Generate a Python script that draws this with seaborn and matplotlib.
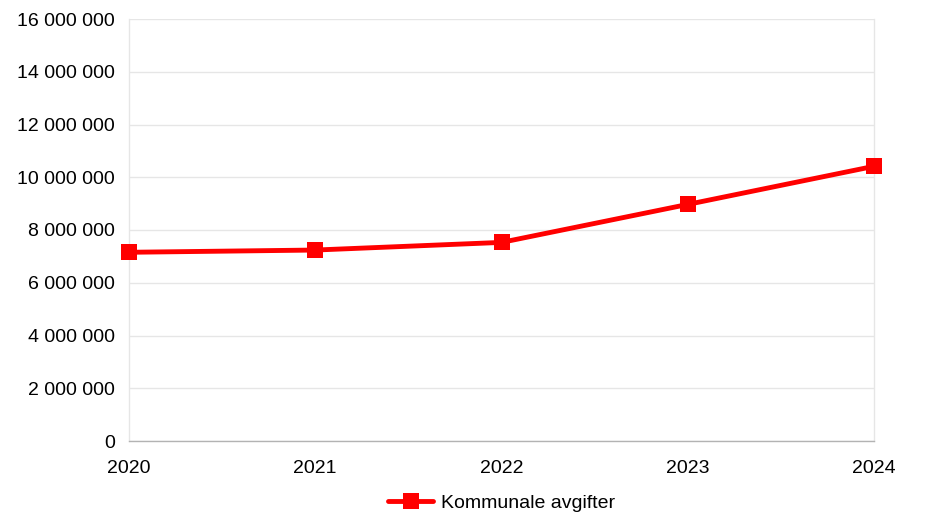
import pandas as pd
import matplotlib
matplotlib.use("Agg")
import matplotlib.pyplot as plt
import matplotlib.ticker as mticker
import seaborn as sns

years = [2020, 2021, 2022, 2023, 2024]
kommunale_avgifter = [7155000, 7240000, 7530000, 8970000, 10415000]
series_name = "Kommunale avgifter"

df = pd.DataFrame({"År": years, "Beløp": kommunale_avgifter, "Serie": series_name})

sns.set_theme(style="white")
plt.rcParams['font.family'] = ['Liberation Sans', 'DejaVu Sans']
plt.rcParams['text.color'] = 'black'

fig = plt.figure(figsize=(9.35, 5.28), dpi=100)
ax = fig.add_axes([129 / 935, 87 / 528, 745 / 935, 422 / 528])

sns.lineplot(data=df, x="År", y="Beløp", hue="Serie", palette=["#ff0000"],
             marker="s", markersize=11, markeredgewidth=0, linewidth=3.5,
             ax=ax, legend=True, clip_on=False, zorder=5)

ax.set_xlim(2020, 2024)
ax.set_ylim(0, 16000000)
ax.set_xticks(years)
ax.set_xticklabels([str(y) for y in years])
ax.yaxis.set_major_locator(mticker.MultipleLocator(2000000))
ax.yaxis.set_major_formatter(mticker.FuncFormatter(lambda v, p: f"{int(v):,}".replace(",", " ")))

# horizontal grid only, light border left/right
ax.grid(True, axis="y", color="#e6e6e6", linewidth=1)
ax.set_axisbelow(True)
ax.spines["top"].set_visible(False)
for s in ["left", "right"]:
    ax.spines[s].set_color("#e6e6e6")
    ax.spines[s].set_linewidth(1)
ax.spines["bottom"].set_color("#b3b3b3")
ax.spines["bottom"].set_linewidth(1)
ax.tick_params(axis="both", which="major", labelsize=14, labelcolor="#000000",
               length=6, width=1, pad=4)
ax.tick_params(axis="x", color="#e6e6e6", pad=8)
ax.tick_params(axis="y", color="#e6e6e6")
ax.set_xlabel("")
ax.set_ylabel("")

leg = ax.legend(loc="center", bbox_to_anchor=(0.5, -0.148), frameon=False,
                fontsize=14, handlelength=2.3, handletextpad=0.4)
for t in leg.get_texts():
    t.set_color("black")

plt.savefig("out.png", dpi=100)
plt.close()
